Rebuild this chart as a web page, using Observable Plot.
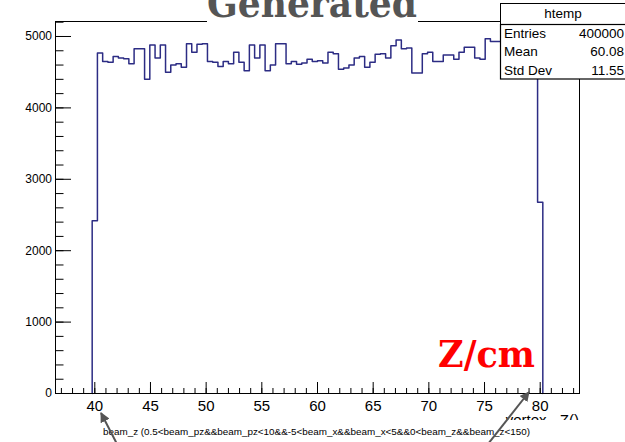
<!DOCTYPE html>
<html><head><meta charset="utf-8">
<script src="https://cdn.jsdelivr.net/npm/d3@7"></script>
<script src="https://cdn.jsdelivr.net/npm/@observablehq/plot@0.6"></script>
<style>
body{margin:0;background:#fff}
#chart{position:relative;width:625px;height:442px;overflow:hidden}
</style>
</head><body><div id="chart"></div>
<script>
// Histogram "htemp": 100 bins between xMin and xMax
const xMin = 36.47, xMax = 83.53, nBins = 100, yMax = 5210;
const firstBin = 7; // index of first non-empty bin
const counts = [
  2420,
  4770, 4650, 4640, 4720, 4700, 4690, 4620, 4830, 4830, 4400, 4880, 4700, 4880, 4500, 4600, 4620, 4570, 4900, 4780, 4890,
  4900, 4650, 4640, 4580, 4650, 4620, 4780, 4640, 4520, 4880, 4700, 4880, 4520, 4600, 4900, 4900, 4620, 4650, 4610, 4630,
  4680, 4650, 4660, 4630, 4780, 4760, 4540, 4560, 4600, 4700, 4720, 4570, 4640, 4750, 4760, 4700, 4870, 4950, 4830, 4840,
  4490, 4490, 4760, 4780, 4650, 4650, 4740, 4740, 4680, 4780, 4850, 4850, 4700, 4680, 4970, 4930, 4930, 4800, 4770, 4900, 4840, 4520, 4850, 4600,
  2680
];
const xMajor = [40, 45, 50, 55, 60, 65, 70, 75, 80];
const xMinor = d3.range(37, 84, 1);
const yMajor = [0, 1000, 2000, 3000, 4000, 5000];
const yMinor = d3.range(0, 5201, 200);
const title = "Generated";
const statName = "htemp";
const statLabels = ["Entries", "Mean", "Std Dev"];
const statValues = ["400000", "60.08", "11.55"];
const xTitle = "vertex - Z()";
const caption = "beam_z (0.5<beam_pz&&beam_pz<10&&-5<beam_x&&beam_x<5&&0<beam_z&&beam_z<150)";
const annotation = "Z/cm";

const binW = (xMax - xMin) / nBins;
const pts = [{x: xMin + firstBin * binW, y: 0}];
counts.forEach((c, i) => pts.push({x: xMin + (firstBin + i) * binW, y: c}));
pts.push({x: xMin + (firstBin + counts.length) * binW, y: 0});

const plot = Plot.plot({
  width: 625, height: 442,
  marginTop: 21, marginRight: 46, marginBottom: 49, marginLeft: 55,
  x: {domain: [xMin, xMax]},
  y: {domain: [0, yMax]},
  style: {fontFamily: "'Liberation Sans', Arial, sans-serif", background: "white", color: "black"},
  marks: [
    Plot.line(pts, {x: "x", y: "y", curve: "step-after", stroke: "#2c2c84", strokeWidth: 1.5}),
    Plot.axisX(xMinor, {anchor: "top", frameAnchor: "bottom", tickSize: 6, tickFormat: () => "", label: null}),
    Plot.axisX(xMajor, {anchor: "top", frameAnchor: "bottom", tickSize: 12, tickFormat: () => "", label: null}),
    Plot.axisX(xMajor, {anchor: "bottom", tickSize: 0, tickPadding: 7, fontSize: 15, label: null}),
    Plot.axisY(yMinor, {anchor: "right", frameAnchor: "left", tickSize: 7.5, tickFormat: () => "", label: null}),
    Plot.axisY(yMajor, {anchor: "right", frameAnchor: "left", tickSize: 15, tickFormat: () => "", label: null}),
    Plot.axisY(yMajor, {anchor: "left", tickSize: 0, tickPadding: 3.5, fontSize: 12, tickFormat: d3.format("d"), label: null}),
    Plot.frame({stroke: "black", strokeWidth: 1})
  ]
});
document.getElementById("chart").appendChild(plot);

const svg = d3.select(plot);
const ns = svg.append("g").attr("text-anchor", "start");

// "Z/cm" annotation
ns.append("text").attr("x", 438).attr("y", 367).attr("text-anchor", "start")
  .attr("font-family", "'DejaVu Serif', serif").attr("font-weight", "bold")
  .attr("font-size", 38).attr("fill", "#ff0000")
  .attr("textLength", 97).attr("lengthAdjust", "spacingAndGlyphs").text(annotation);

// x axis title (partly hidden)
ns.append("text").attr("x", 579).attr("y", 424.5).attr("text-anchor", "end")
  .attr("font-size", 15).attr("fill", "black").text(xTitle);
ns.append("rect").attr("x", 0).attr("y", 420).attr("width", 625).attr("height", 22).attr("fill", "white");
ns.append("text").attr("x", 103).attr("y", 435).attr("text-anchor", "start")
  .attr("font-size", 9.5).attr("fill", "black")
  .attr("textLength", 427).attr("lengthAdjust", "spacingAndGlyphs").text(caption);

// arrows
const defs = svg.append("defs");
defs.append("marker").attr("id", "ah").attr("viewBox", "0 0 10 10").attr("refX", 9).attr("refY", 5)
  .attr("markerWidth", 5).attr("markerHeight", 5).attr("orient", "auto")
  .append("path").attr("d", "M0,0L10,5L0,10z").attr("fill", "#555");
ns.append("line").attr("x1", 117).attr("y1", 444).attr("x2", 101).attr("y2", 413)
  .attr("stroke", "#555").attr("stroke-width", 2).attr("marker-end", "url(#ah)");
ns.append("line").attr("x1", 488).attr("y1", 444).attr("x2", 529).attr("y2", 392)
  .attr("stroke", "#555").attr("stroke-width", 2).attr("marker-end", "url(#ah)");

// Title
ns.append("rect").attr("x", 207).attr("y", 0).attr("width", 211).attr("height", 22).attr("fill", "white");
ns.append("text").attr("x", 312).attr("y", 17).attr("text-anchor", "middle")
  .attr("font-family", "'DejaVu Serif', serif").attr("font-weight", "bold")
  .attr("font-size", 40).attr("fill", "#555")
  .attr("textLength", 210).attr("lengthAdjust", "spacingAndGlyphs").text(title);

// Stat box
ns.append("rect").attr("x", 500.5).attr("y", 3.5).attr("width", 130).attr("height", 21).attr("fill", "white").attr("stroke", "black");
ns.append("rect").attr("x", 500.5).attr("y", 24.5).attr("width", 130).attr("height", 54.5).attr("fill", "white").attr("stroke", "black").attr("stroke-width", 1.2);
ns.append("text").attr("x", 563).attr("y", 18).attr("text-anchor", "middle").attr("font-size", 13.5).text(statName);
const rowY = [38, 56, 75];
statLabels.forEach((l, i) => {
  ns.append("text").attr("x", 504).attr("y", rowY[i]).attr("text-anchor", "start").attr("font-size", 13.5).text(l);
  ns.append("text").attr("x", 624).attr("y", rowY[i]).attr("text-anchor", "end").attr("font-size", 13.5).text(statValues[i]);
});
</script>
</body></html>
